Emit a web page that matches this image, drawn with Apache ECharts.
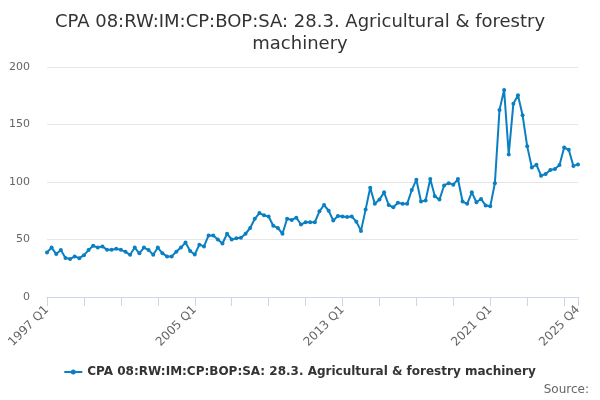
<!DOCTYPE html>
<html>
<head>
<meta charset="utf-8">
<script src="https://cdn.jsdelivr.net/npm/echarts@6/dist/echarts.min.js"></script>
<style>
    html,body{margin:0;padding:0;background:#fff;}
    #chart{width:600px;height:400px;}
</style>
</head>
<body>
<div id="chart"></div>
<script>
// quarters 1997 Q1 .. 2025 Q4
let quarters = [];
for (let y = 1997; y <= 2025; y++) {
    for (let q = 1; q <= 4; q++) {
        quarters.push(y + " Q" + q);
    }
}
let values = [
    38.7, 43, 37.3, 40.8, 34, 33, 35.3, 33.8, 36.4, 40.8,
    44.5, 43, 44, 41, 41, 42, 41, 39.3, 36.7, 43,
    38, 43, 40.8, 36.7, 43, 38, 35.3, 35.3, 39.3, 43,
    47.4, 40, 37, 45.5, 44, 53.5, 53.5, 50, 46.5, 55,
    50, 51, 51.5, 55, 60, 68, 73, 71, 70, 62,
    60, 55, 68, 67, 69, 63, 65, 65, 65, 74.5,
    80, 75, 66.5, 70.5, 70, 69.5, 70, 65.5, 57.5, 76,
    95, 81, 84.7, 91, 80, 78, 82, 81, 81, 93,
    102, 83, 84, 102.6, 87.6, 84.7, 97, 99, 97.7, 102.6,
    83, 81, 91, 82.4, 85.3, 79.5, 78.9, 99, 162.7, 180,
    124, 168, 175.4, 158, 131, 112.7, 115, 105.5, 107, 110.4,
    111.3, 114.7, 130, 128, 114, 115.3
];
let seriesName = "CPA 08:RW:IM:CP:BOP:SA: 28.3. Agricultural & forestry machinery";
let labelShown = ["1997 Q1", "2005 Q1", "2013 Q1", "2021 Q1", "2025 Q4"];

let chart = {
    init:()=>{
        let myChart = echarts.init(document.getElementById('chart'));
        let last = quarters.length - 1;
        let option = {
            animation: false,
            textStyle: {fontFamily: 'DejaVu Sans'},
            title: {
                text: "CPA 08:RW:IM:CP:BOP:SA: 28.3. Agricultural & forestry\nmachinery",
                left: 'center',
                top: 6,
                textStyle: {fontSize: 18, fontWeight: 'normal', color: '#333', lineHeight: 22}
            },
            legend: {
                bottom: 17,
                left: 'center',
                itemWidth: 18,
                itemHeight: 8,
                // line with a dot in the middle
                icon: 'path://M0,3 L18,3 L18,5 L0,5 Z M6.5,4 A2.5,2.5 0 1 1 11.5,4 A2.5,2.5 0 1 1 6.5,4 Z',
                textStyle: {fontSize: 12, fontWeight: 'bold', color: '#333'},
                data: [seriesName]
            },
            graphic: [{
                type: 'text',
                right: 11,
                bottom: 4,
                style: {text: 'Source:', fontSize: 12, fill: '#666', fontFamily: 'DejaVu Sans'}
            }],
            grid: {left: 47, right: 22, top: 67, bottom: 103},
            xAxis: {
                type: 'category',
                data: quarters,
                boundaryGap: false,
                axisLine: {lineStyle: {color: '#ccd6eb'}},
                axisTick: {
                    length: 9,
                    lineStyle: {color: '#ccd6eb'},
                    interval: (i)=> i % 8 === 0 || i === last
                },
                axisLabel: {
                    rotate: 45,
                    fontSize: 12,
                    color: '#666',
                    margin: 11,
                    interval: (i, v)=> labelShown.indexOf(v) >= 0
                }
            },
            yAxis: {
                type: 'value',
                min: 0,
                max: 200,
                interval: 50,
                axisLine: {show: false},
                axisTick: {show: false},
                axisLabel: {fontSize: 11, color: '#666', margin: 17},
                splitLine: {lineStyle: {color: '#e6e6e6'}}
            },
            series: [{
                name: seriesName,
                type: 'line',
                data: values,
                color: '#0a7fc2',
                lineStyle: {width: 2},
                symbol: 'circle',
                symbolSize: 4,
                showAllSymbol: true
            }]
        };
        myChart.setOption(option);
    }//init-------end
}

chart.init();
</script>
</body>
</html>
